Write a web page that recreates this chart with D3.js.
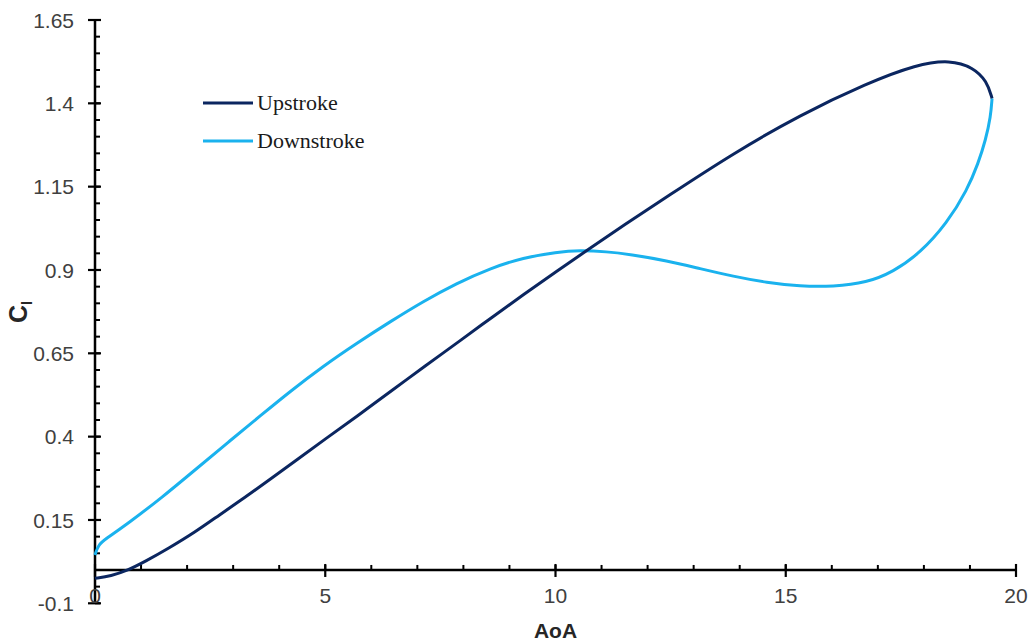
<!DOCTYPE html>
<html>
<head>
<meta charset="utf-8">
<script src="https://cdn.jsdelivr.net/npm/d3@7/dist/d3.min.js"></script>
<style>
  html, body { margin: 0; padding: 0; background: #ffffff; }
  svg { display: block; }
</style>
</head>
<body>
<svg id="chart" width="1032" height="642"></svg>
<script>
// ---- data ----
const seriesNames = ["Upstroke", "Downstroke"];
const seriesColors = ["#0b2660", "#1ab2ee"];

const upstrokeAoA = [0, 0.35, 0.7, 1.1, 1.6, 2.17, 2.7, 3.26, 3.8, 4.4, 5.0, 5.68, 6.5, 7.13, 8.0, 8.58, 9.3, 10.03, 10.75, 11.47, 12.42, 13.86, 15.31, 16.76, 17.85, 18.57, 19.07, 19.37, 19.48];
const upstrokeCl  = [-0.025, -0.018, -0.002, 0.026, 0.065, 0.113, 0.165, 0.218, 0.272, 0.332, 0.393, 0.46, 0.544, 0.608, 0.695, 0.754, 0.826, 0.897, 0.965, 1.033, 1.12, 1.25, 1.365, 1.46, 1.517, 1.53, 1.508, 1.466, 1.415];

const downstrokeAoA = [19.48, 19.45, 19.34, 19.18, 18.94, 18.5, 17.92, 17.33, 16.76, 16.03, 15.31, 14.59, 13.86, 13.14, 12.42, 11.62, 11.11, 10.53, 10.03, 9.3, 8.58, 7.85, 7.13, 6.41, 5.68, 4.96, 4.23, 3.62, 2.89, 2.17, 1.45, 0.72, 0.22, 0.07, 0];
const downstrokeCl  = [1.415, 1.36, 1.29, 1.22, 1.14, 1.04, 0.951, 0.894, 0.862, 0.850, 0.851, 0.862, 0.881, 0.904, 0.928, 0.947, 0.955, 0.959, 0.954, 0.937, 0.905, 0.86, 0.806, 0.745, 0.68, 0.612, 0.535, 0.466, 0.383, 0.300, 0.217, 0.14, 0.092, 0.075, 0.045];

const xTicks = [0, 5, 10, 15, 20];
const yTicks = [-0.1, 0.15, 0.4, 0.65, 0.9, 1.15, 1.4, 1.65];
const yTickLabels = ["-0.1", "0.15", "0.4", "0.65", "0.9", "1.15", "1.4", "1.65"];
const xMinorTicks = d3.range(0, 21, 1);
const yMinorTicks = d3.range(-0.1, 1.6501, 0.05);

// ---- layout ----
const svg = d3.select("#chart");
const x = d3.scaleLinear().domain([0, 20]).range([95, 1016]);
const y = d3.scaleLinear().domain([-0.1, 1.65]).range([603.3, 20]);

const tickFont = "'Liberation Sans', Arial, sans-serif";
const tickColor = "#404040";

// Y axis
const gy = svg.append("g").attr("transform", `translate(${x(0)},0)`);
gy.append("line").attr("y1", y(-0.1)).attr("y2", y(1.65)).attr("stroke", "#000").attr("stroke-width", 2.5);
gy.selectAll("line.minor").data(yMinorTicks).enter().append("line")
  .attr("class", "minor").attr("x1", 0).attr("x2", 5)
  .attr("y1", d => y(d)).attr("y2", d => y(d)).attr("stroke", "#000").attr("stroke-width", 2);
gy.selectAll("line.major").data(yTicks).enter().append("line")
  .attr("class", "major").attr("x1", -7).attr("x2", 6)
  .attr("y1", d => y(d)).attr("y2", d => y(d)).attr("stroke", "#000").attr("stroke-width", 2.2);
gy.selectAll("text").data(yTicks).enter().append("text")
  .attr("x", -21).attr("y", d => y(d)).attr("dy", "0.36em")
  .attr("text-anchor", "end").attr("font-family", tickFont).attr("font-size", 21)
  .attr("fill", tickColor).text((d, i) => yTickLabels[i]);

// X axis at Cl = 0
const gx = svg.append("g").attr("transform", `translate(0,${y(0)})`);
gx.append("line").attr("x1", x(0)).attr("x2", x(20)).attr("stroke", "#000").attr("stroke-width", 2.5);
gx.selectAll("line.minor").data(xMinorTicks).enter().append("line")
  .attr("class", "minor").attr("y1", 0).attr("y2", -5)
  .attr("x1", d => x(d)).attr("x2", d => x(d)).attr("stroke", "#000").attr("stroke-width", 2);
gx.selectAll("line.major").data(xTicks).enter().append("line")
  .attr("class", "major").attr("y1", -6).attr("y2", 7)
  .attr("x1", d => x(d)).attr("x2", d => x(d)).attr("stroke", "#000").attr("stroke-width", 2.2);
gx.selectAll("text").data(xTicks).enter().append("text")
  .attr("x", d => x(d)).attr("y", 25).attr("dy", "0.36em")
  .attr("text-anchor", "middle").attr("font-family", tickFont).attr("font-size", 21)
  .attr("fill", tickColor).text(d => d);

// Axis titles
svg.append("text").attr("x", x(10)).attr("y", 638).attr("text-anchor", "middle")
  .attr("font-family", tickFont).attr("font-weight", "bold").attr("font-size", 21)
  .attr("fill", "#262626").text("AoA");

const yt = svg.append("text").attr("transform", "translate(27,323) rotate(-90)")
  .attr("font-family", tickFont).attr("font-weight", "bold").attr("fill", "#262626");
yt.append("tspan").attr("font-size", 25).text("C");
yt.append("tspan").attr("font-size", 15).attr("dy", 5).text("l");

// Curves
const up = upstrokeAoA.map((d, i) => [d, upstrokeCl[i]]);
const down = downstrokeAoA.map((d, i) => [d, downstrokeCl[i]]);
const line = d3.line().x(d => x(d[0])).y(d => y(d[1])).curve(d3.curveBasis);

svg.append("path").datum(down).attr("d", line).attr("fill", "none")
  .attr("stroke", seriesColors[1]).attr("stroke-width", 3);
svg.append("path").datum(up).attr("d", line).attr("fill", "none")
  .attr("stroke", seriesColors[0]).attr("stroke-width", 3);

// Legend
const legendY = [103, 141];
const lg = svg.append("g");
seriesNames.forEach((name, i) => {
  lg.append("line").attr("x1", 203).attr("x2", 253).attr("y1", legendY[i]).attr("y2", legendY[i])
    .attr("stroke", seriesColors[i]).attr("stroke-width", 3);
  lg.append("text").attr("x", 257).attr("y", legendY[i]).attr("dy", "0.3em")
    .attr("font-family", "'Liberation Serif', 'Times New Roman', serif").attr("font-size", 22)
    .attr("fill", "#1a1a1a").text(name);
});
</script>
</body>
</html>
